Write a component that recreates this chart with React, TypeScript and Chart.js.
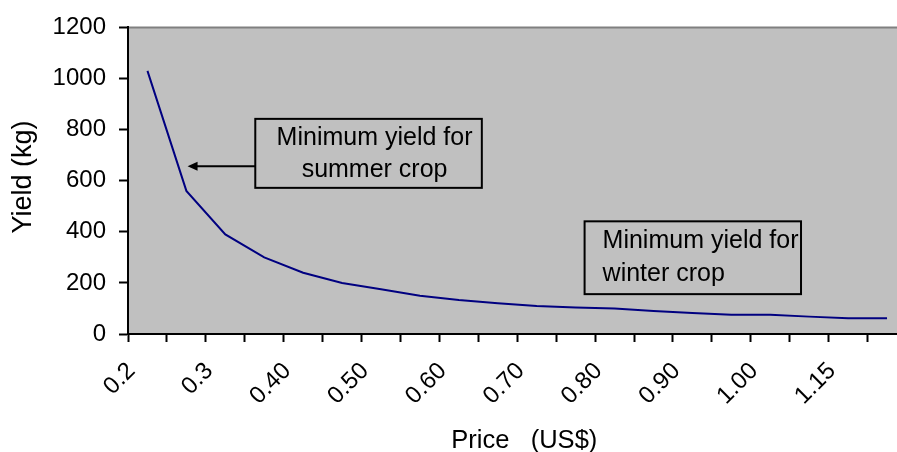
import React, { useEffect, useRef } from "react";
import { Chart, registerables } from "chart.js";

Chart.register(...registerables);

// ---- data ----
const categories = [
  "0.2", "0.25", "0.3", "0.35", "0.40", "0.45", "0.50", "0.55", "0.60", "0.65",
  "0.70", "0.75", "0.80", "0.85", "0.90", "0.95", "1.00", "1.10", "1.15", "1.20",
];
const yieldKg = [1030, 560, 390, 300, 240, 200, 175, 150, 133, 120, 110, 104, 100, 90, 82, 75, 75, 68, 62, 62];
const labelEvery = 2;
const yMin = 0;
const yMax = 1200;
const yStep = 200;
const xTitle = "  Price   (US$)";
const yTitle = " Yield (kg)";

// annotation boxes in data units (category index, kg)
const summerNote = ["Minimum yield for", "summer crop"];
const summerBox = [2.77, 8.59, 572, 842];
const summerArrow = [2.77, 1.03, 657];
const winterNote = ["Minimum yield for", "winter crop"];
const winterBox = [11.23, 16.79, 156, 441];

const FONT = "'Liberation Sans', Arial, sans-serif";

const notesPlugin = {
  id: "notes",
  beforeDraw(chart: any) {
    const { ctx, chartArea } = chart;
    ctx.save();
    ctx.fillStyle = "#C0C0C0";
    ctx.fillRect(chartArea.left, chartArea.top, chartArea.right - chartArea.left, chartArea.bottom - chartArea.top);
    ctx.strokeStyle = "#808080";
    ctx.lineWidth = 2;
    ctx.beginPath();
    ctx.moveTo(chartArea.left, chartArea.top);
    ctx.lineTo(chartArea.right, chartArea.top);
    ctx.stroke();
    ctx.restore();
  },
  afterDatasetsDraw(chart: any) {
    const { ctx } = chart;
    const xs = chart.scales.x;
    const ys = chart.scales.y;
    ctx.save();
    ctx.strokeStyle = "#000";
    ctx.fillStyle = "#000";
    ctx.lineWidth = 2;
    ctx.font = `25px ${FONT}`;
    ctx.textBaseline = "middle";

    // summer box
    const sx0 = xs.getPixelForValue(summerBox[0]);
    const sx1 = xs.getPixelForValue(summerBox[1]);
    const sy0 = ys.getPixelForValue(summerBox[2]);
    const sy1 = ys.getPixelForValue(summerBox[3]);
    ctx.strokeRect(sx0, sy1, sx1 - sx0, sy0 - sy1);
    ctx.textAlign = "center";
    const scx = (sx0 + sx1) / 2 + 6;
    const sh = sy0 - sy1;
    ctx.fillText(summerNote[0], scx, sy1 + sh * 0.28);
    ctx.fillText(summerNote[1], scx, sy1 + sh * 0.75);

    // arrow
    const ax0 = xs.getPixelForValue(summerArrow[0]);
    const ax1 = xs.getPixelForValue(summerArrow[1]);
    const ay = ys.getPixelForValue(summerArrow[2]);
    ctx.beginPath();
    ctx.moveTo(ax0, ay);
    ctx.lineTo(ax1 + 8, ay);
    ctx.stroke();
    ctx.beginPath();
    ctx.moveTo(ax1, ay);
    ctx.lineTo(ax1 + 10, ay - 4.5);
    ctx.lineTo(ax1 + 10, ay + 4.5);
    ctx.closePath();
    ctx.fill();

    // winter box
    const wx0 = xs.getPixelForValue(winterBox[0]);
    const wx1 = xs.getPixelForValue(winterBox[1]);
    const wy0 = ys.getPixelForValue(winterBox[2]);
    const wy1 = ys.getPixelForValue(winterBox[3]);
    ctx.strokeRect(wx0, wy1, wx1 - wx0, wy0 - wy1);
    ctx.textAlign = "left";
    const wh = wy0 - wy1;
    ctx.fillText(winterNote[0], wx0 + 18, wy1 + wh * 0.27);
    ctx.fillText(winterNote[1], wx0 + 18, wy1 + wh * 0.72);
    ctx.restore();
  },
};

export default function App() {
  const ref = useRef<HTMLCanvasElement>(null);
  useEffect(() => {
    const chart = new Chart(ref.current as HTMLCanvasElement, {
      type: "line",
      data: {
        labels: categories,
        datasets: [
          {
            data: yieldKg,
            borderColor: "#000080",
            borderWidth: 2,
            pointRadius: 0,
            tension: 0,
            fill: false,
          },
        ],
      },
      options: {
        responsive: false,
        animation: false,
        layout: { padding: { left: 0, top: 23, right: 13.5, bottom: 0 } },
        plugins: { legend: { display: false }, tooltip: { enabled: false } },
        scales: {
          x: {
            type: "category",
            offset: true,
            grid: {
              offset: true,
              drawOnChartArea: false,
              drawTicks: true,
              tickLength: 8,
              tickWidth: 2,
              tickColor: "#000",
            },
            border: { display: true, color: "#000", width: 2 },
            ticks: {
              autoSkip: false,
              maxRotation: 45,
              minRotation: 45,
              padding: 15,
              labelOffset: -16,
              color: "#000",
              font: { family: FONT, size: 24 },
              callback: (_v: any, i: number) => (i % labelEvery === 0 ? categories[i] : ""),
            },
            title: {
              display: true,
              text: xTitle,
              color: "#000",
              font: { family: FONT, size: 25.5, lineHeight: 0.85 },
              padding: { top: 4, bottom: 0 },
            },
            afterFit: (scale: any) => {
              scale.height = 118;
              scale.paddingLeft = 0;
              scale.paddingRight = 0;
            },
          },
          y: {
            min: yMin,
            max: yMax,
            grid: {
              drawOnChartArea: false,
              drawTicks: true,
              tickLength: 9,
              tickWidth: 2,
              tickColor: "#000",
            },
            border: { display: true, color: "#000", width: 2 },
            ticks: {
              stepSize: yStep,
              padding: 13,
              color: "#000",
              font: { family: FONT, size: 24 },
              callback: (v: any) => String(v),
            },
            title: {
              display: true,
              text: yTitle,
              color: "#000",
              font: { family: FONT, size: 27, lineHeight: 1 },
              padding: { top: 10, bottom: 0 },
            },
            afterFit: (scale: any) => {
              scale.width = 128;
            },
          },
        },
      },
      plugins: [notesPlugin],
    } as any);
    return () => chart.destroy();
  }, []);
  return (
    <div style={{ width: 897, height: 452, overflow: "hidden", position: "relative" }}>
      <style>{"body{margin:0}"}</style>
      <canvas ref={ref} width={920} height={452} style={{ display: "block" }} />
    </div>
  );
}
